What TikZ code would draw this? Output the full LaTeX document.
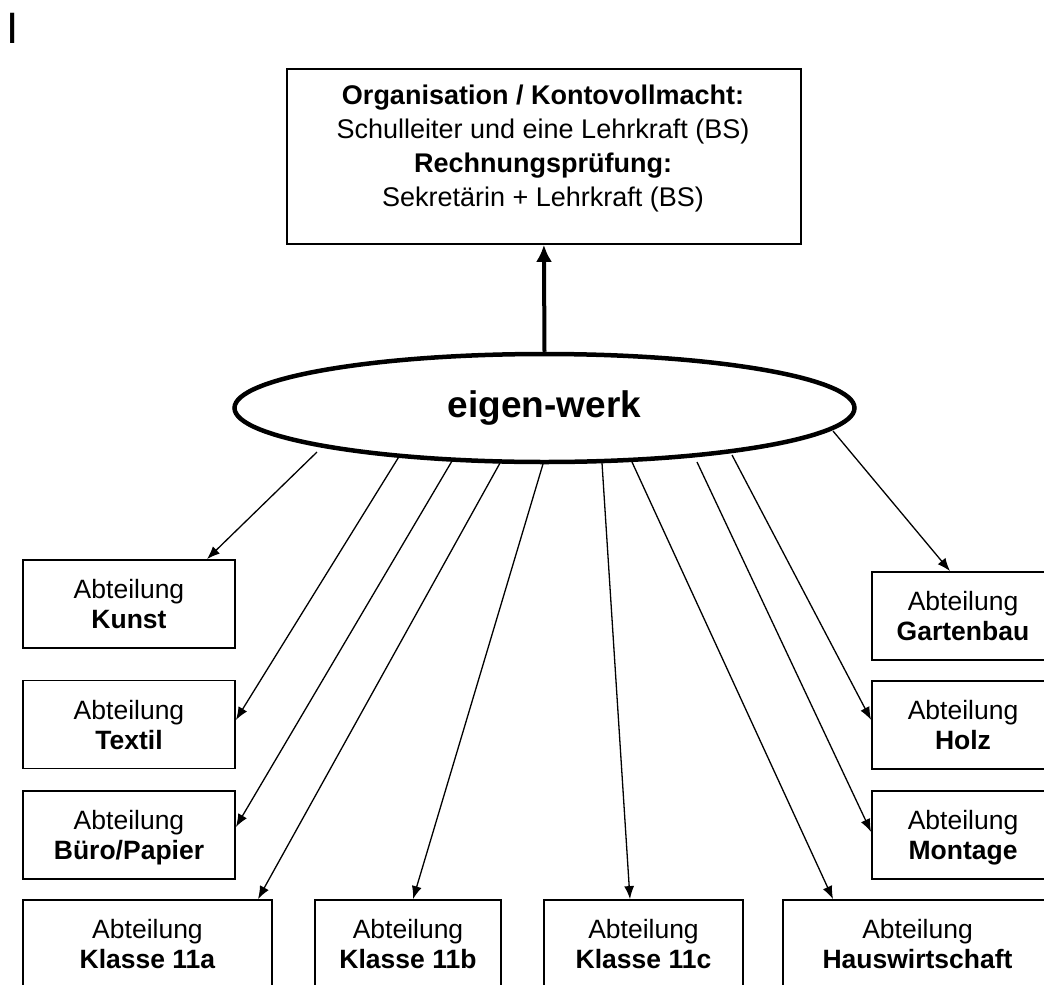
\documentclass[tikz,border=0pt]{standalone}
\usepackage{fontspec}
\setmainfont{Liberation Sans}
\usetikzlibrary{shapes.geometric,arrows.meta,calc}
\newcommand{\abt}[1]{Abteilung\\\smash{\textbf{#1}}}
\begin{document}
\begin{tikzpicture}[x=1pt,y=-1pt,
  box/.style={draw, line width=1.8pt, rectangle, inner sep=0pt, align=center,
    minimum height=88pt, font=\fontsize{26.5}{30}\selectfont},
  arr/.style={line width=1.3pt, -{Latex[length=13pt,width=10pt]}},
  bigarr/.style={line width=4pt, -{Latex[length=17pt,width=16pt]}},
]
\clip (0,0) rectangle (1044,985);
\fill[white] (0,0) rectangle (1044,985);

% stray mark top left
\node[anchor=base west, inner sep=0pt, font=\fontsize{44}{50}\selectfont] (mark) at (6,43) {I};

% top box
\node[draw, line width=1.8pt, rectangle, anchor=north west, minimum width=514pt, minimum height=175pt, inner sep=0pt] (org) at (286,68) {};
\node[anchor=north, inner sep=0pt, align=center, font=\fontsize{27}{34}\selectfont] (orgtext) at (543,85)
  {\textbf{Organisation / Kontovollmacht:}\\Schulleiter und eine Lehrkraft (BS)\\\textbf{Rechnungsprüfung:}\\Sekretärin + Lehrkraft (BS)};

% ellipse
\node[ellipse, draw, line width=4.5pt, minimum width=620pt, minimum height=108pt, inner sep=0pt,
  font=\fontsize{37}{44}\selectfont\bfseries] (ew) at (544.5,408) {eigen-werk};

\draw[bigarr] (ew.north) -- (org.south);

% department boxes
\node[box, minimum width=212pt] (kunst) at (129,604) {\abt{Kunst}};
\node[box, minimum width=212pt] (textil) at (129,724.5) {\abt{Textil}};
\node[box, minimum width=212pt] (buero) at (129,835) {\abt{Büro/Papier}};
\node[box, minimum width=249pt] (k11a) at (147.5,944) {\abt{Klasse 11a}};
\node[box, minimum width=186pt] (k11b) at (408,944) {\abt{Klasse 11b}};
\node[box, minimum width=199pt] (k11c) at (643.5,944) {\abt{Klasse 11c}};
\node[box, minimum width=269pt] (hausw) at (917.5,944) {\abt{Hauswirtschaft}};
\node[box, minimum width=182pt] (garten) at (963,616) {\abt{Gartenbau}};
\node[box, minimum width=182pt] (holz) at (963,725) {\abt{Holz}};
\node[box, minimum width=182pt] (montage) at (963,835) {\abt{Montage}};

% start points on the ellipse
\coordinate (s1) at (317,452);
\coordinate (s2) at (400,455);
\coordinate (s3) at (452,461);
\coordinate (s4) at (500,463);
\coordinate (s5) at (543,464);
\coordinate (s6) at (602,463);
\coordinate (s7) at (632,462);
\coordinate (s8) at (697,462);
\coordinate (s9) at (732,455);
\coordinate (s10) at (833,431);

\draw[arr] (s1) -- ([xshift=78pt]kunst.north);
\draw[arr] (s2) -- ([yshift=4.5pt]textil.east);
\draw[arr] (s3) -- ([yshift=8pt]buero.east);
\draw[arr] (s4) -- ([xshift=110.5pt]k11a.north);
\draw[arr] (s5) -- ([xshift=5pt]k11b.north);
\draw[arr] (s6) -- ([xshift=-13.5pt]k11c.north);
\draw[arr] (s7) -- ([xshift=-84.5pt]hausw.north);
\draw[arr] (s8) -- ([yshift=3pt]montage.west);
\draw[arr] (s9) -- ([yshift=5pt]holz.west);
\draw[arr] (s10) -- ([xshift=-13pt]garten.north);
\end{tikzpicture}
\end{document}
